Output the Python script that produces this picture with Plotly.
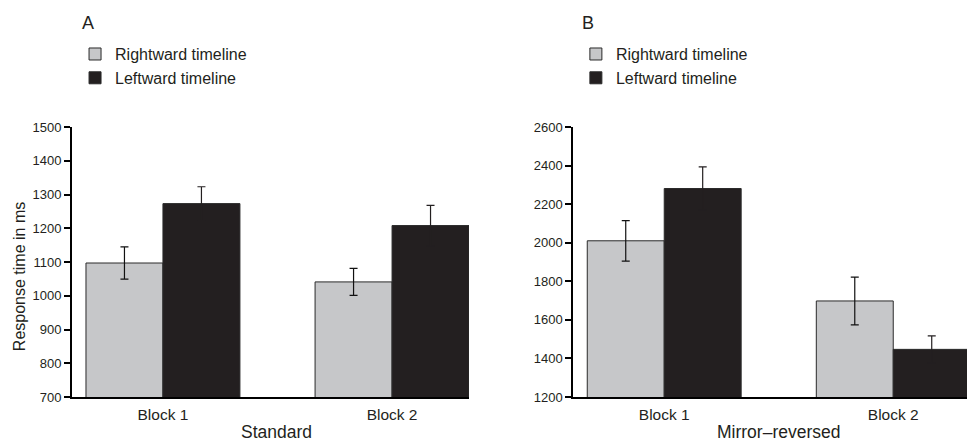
import plotly.graph_objects as go

# ---------------- data ----------------
categories = ["Block 1", "Block 2"]
series_names = ["Rightward timeline", "Leftward timeline"]

standard_right = [1097, 1041]
standard_right_err = [48, 40]
standard_left = [1273, 1208]
standard_left_err = [50, 60]

mirror_right = [2010, 1698]
mirror_right_err = [105, 124]
mirror_left = [2281, 1447]
mirror_left_err = [112, 70]

std_ticks = [700, 800, 900, 1000, 1100, 1200, 1300, 1400, 1500]
mir_ticks = [1200, 1400, 1600, 1800, 2000, 2200, 2400, 2600]

# ---------------- style ----------------
FONT = "Liberation Sans, Arial, Helvetica, sans-serif"
GRAY = "#c6c7c9"
BLACK = "#231f20"
EDGE = "#2a2a2a"
TXT = "#231f20"


def bar(x, y, err, name, color, errcolor, xa, ya, legend):
    return go.Bar(
        x=x, y=y, name=name, xaxis=xa, yaxis=ya, legend=legend,
        marker=dict(color=color, line=dict(color=EDGE, width=1)),
        error_y=dict(type="data", array=err, visible=True,
                     color=errcolor, thickness=1.2, width=4),
    )


fig = go.Figure()
fig.add_trace(bar(categories, standard_right, standard_right_err, series_names[0], GRAY, "#111111", "x", "y", "legend"))
fig.add_trace(bar(categories, standard_left, standard_left_err, series_names[1], BLACK, BLACK, "x", "y", "legend"))
fig.add_trace(bar(categories, mirror_right, mirror_right_err, series_names[0], GRAY, "#111111", "x2", "y2", "legend2"))
fig.add_trace(bar(categories, mirror_left, mirror_left_err, series_names[1], BLACK, BLACK, "x2", "y2", "legend2"))

xcommon = dict(type="category", showline=True, linecolor="#000000", linewidth=2,
               ticks="", showgrid=False, zeroline=False, ticklabelstandoff=2,
               tickfont=dict(family=FONT, size=15.5, color=TXT))
ycommon = dict(showline=True, linecolor="#000000", linewidth=2, ticks="outside",
               ticklen=6, tickwidth=2, tickcolor="#000000", showgrid=False,
               zeroline=False, tickfont=dict(family=FONT, size=13, color=TXT))

legend_common = dict(font=dict(family=FONT, size=16, color=TXT), bgcolor="rgba(0,0,0,0)",
                     xanchor="left", yanchor="top", traceorder="normal",
                     borderwidth=0, itemclick=False)

fig.update_layout(
    width=967, height=441,
    margin=dict(l=72, r=0, t=127, b=44, autoexpand=False),
    paper_bgcolor="white", plot_bgcolor="white",
    barmode="group", bargap=0.328, bargroupgap=0,
    showlegend=True,
    xaxis=dict(xcommon, domain=[0, 0.4436], range=[-0.397, 1.336], anchor="y"),
    yaxis=dict(ycommon, range=[700, 1500], tickvals=std_ticks, anchor="x"),
    xaxis2=dict(xcommon, domain=[0.5601, 1.0], range=[-0.397, 1.322], anchor="y2"),
    yaxis2=dict(ycommon, range=[1200, 2600], tickvals=mir_ticks, anchor="x2"),
    legend=dict(legend_common, x=0.0034, y=1.333),
    legend2=dict(legend_common, x=0.563, y=1.333),
    annotations=[
        dict(text="A", x=0.0084, y=1.385, xref="paper", yref="paper", xanchor="left",
             yanchor="middle", showarrow=False, font=dict(family=FONT, size=18, color=TXT)),
        dict(text="B", x=0.5676, y=1.385, xref="paper", yref="paper", xanchor="left",
             yanchor="middle", showarrow=False, font=dict(family=FONT, size=18, color=TXT)),
        dict(text="Response time in ms", x=-0.0592, y=0.444, xref="paper", yref="paper",
             textangle=-90, xanchor="center", yanchor="middle", showarrow=False,
             font=dict(family=FONT, size=16, color=TXT)),
        dict(text="Standard", x=0.229, y=-0.1296, xref="paper", yref="paper",
             xanchor="center", yanchor="middle", showarrow=False,
             font=dict(family=FONT, size=17.5, color=TXT)),
        dict(text="Mirror\u2013reversed", x=0.790, y=-0.1296, xref="paper", yref="paper",
             xanchor="center", yanchor="middle", showarrow=False,
             font=dict(family=FONT, size=17.5, color=TXT)),
    ],
)

fig.write_html("out.html", config={"displayModeBar": False},
               post_script="document.body.style.margin='0';")
